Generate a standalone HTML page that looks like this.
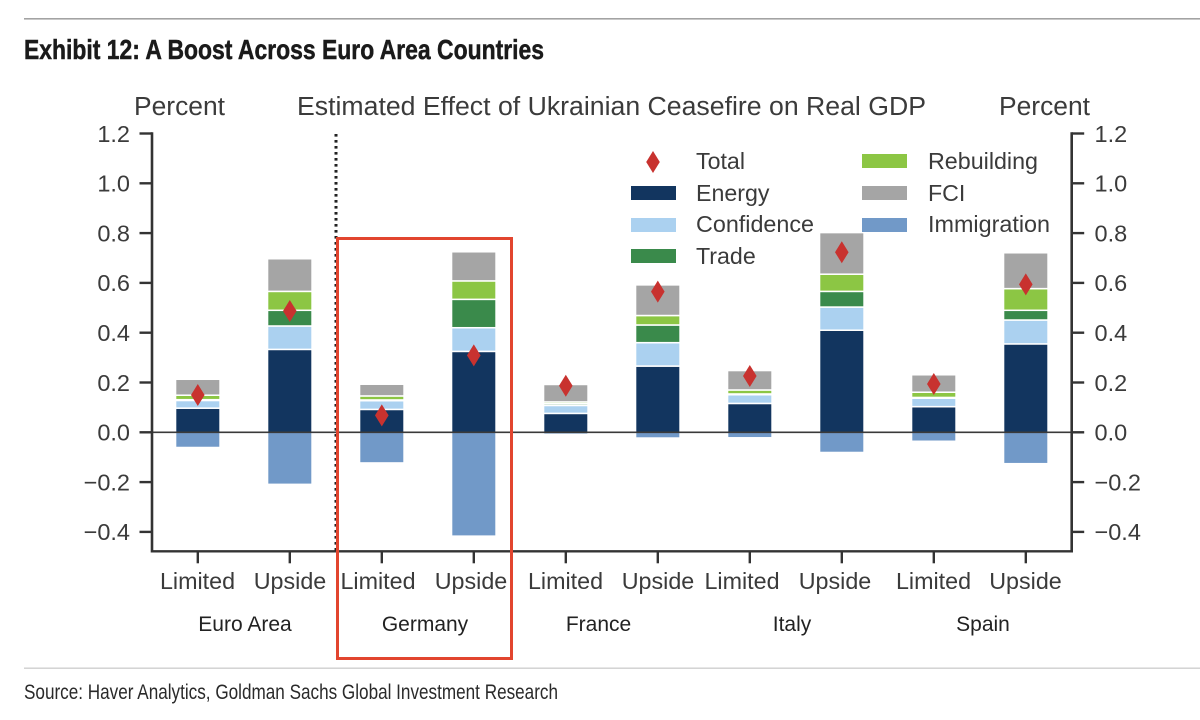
<!DOCTYPE html>
<html lang="en">
<head>
<meta charset="utf-8">
<title>Exhibit 12: A Boost Across Euro Area Countries</title>
<style>
  html, body { margin: 0; padding: 0; background: #fff; }
  body { width: 1200px; height: 720px; overflow: hidden; }
  svg { display: block; filter: blur(0.35px); }
  text { font-family: "Liberation Sans", Arial, sans-serif; fill: #3b3b3b; }
</style>
</head>
<body>
<svg id="chart" xmlns="http://www.w3.org/2000/svg" width="1200" height="720" viewBox="0 0 1200 720">
  <rect x="0" y="0" width="1200" height="720" fill="#ffffff"/>
  <rect x="24" y="18" width="1176" height="1.6" fill="#a3a3a3"/>
  <text x="24" y="59" font-size="28" font-weight="700" textLength="520" lengthAdjust="spacingAndGlyphs" style="fill:#1a1a1a;stroke:#1a1a1a;stroke-width:0.5px">Exhibit 12: A Boost Across Euro Area Countries</text>

  <text x="134" y="115" font-size="25.5" textLength="91" lengthAdjust="spacingAndGlyphs">Percent</text>
  <text x="297" y="115" font-size="25.5" textLength="629" lengthAdjust="spacingAndGlyphs">Estimated Effect of Ukrainian Ceasefire on Real GDP</text>
  <text x="999" y="115" font-size="25.5" textLength="91" lengthAdjust="spacingAndGlyphs">Percent</text>

  <g id="bars"></g>
  <g id="axes"></g>
  <g id="markers"></g>

  <line x1="336" y1="134" x2="336" y2="551" stroke="#222222" stroke-width="3" stroke-dasharray="2.6 3.4"/>

  <g>
    <g>
      <polygon points="653,151 659.8,162 653,173 646.2,162" fill="#c8322f"/>
      <text x="696" y="169" font-size="23.2">Total</text>
    </g>
    <g>
      <rect x="631" y="186" width="45" height="14" fill="#12355f"/>
      <text x="696" y="201" font-size="23.2">Energy</text>
    </g>
    <g>
      <rect x="631" y="218" width="45" height="14" fill="#abd1f0"/>
      <text x="696" y="232" font-size="23.2" textLength="118" lengthAdjust="spacingAndGlyphs">Confidence</text>
    </g>
    <g>
      <rect x="631" y="249" width="45" height="14" fill="#3a8a4b"/>
      <text x="696" y="264" font-size="23.2">Trade</text>
    </g>
    <g>
      <rect x="862" y="154" width="45" height="14" fill="#8cc644"/>
      <text x="928" y="169" font-size="23.2" textLength="110" lengthAdjust="spacingAndGlyphs">Rebuilding</text>
    </g>
    <g>
      <rect x="862" y="186" width="45" height="14" fill="#a5a5a5"/>
      <text x="928" y="201" font-size="23.2">FCI</text>
    </g>
    <g>
      <rect x="862" y="218" width="45" height="14" fill="#7199c8"/>
      <text x="928" y="232" font-size="23.2" textLength="122" lengthAdjust="spacingAndGlyphs">Immigration</text>
    </g>
  </g>

  <g font-size="23.3" text-anchor="middle">
    <text x="197.5" y="589">Limited</text>
    <text x="290" y="589">Upside</text>
    <text x="378" y="589">Limited</text>
    <text x="471" y="589">Upside</text>
    <text x="565.5" y="589">Limited</text>
    <text x="658" y="589">Upside</text>
    <text x="742" y="589">Limited</text>
    <text x="835" y="589">Upside</text>
    <text x="933.5" y="589">Limited</text>
    <text x="1025.5" y="589">Upside</text>
  </g>
  <g font-size="21" text-anchor="middle" style="fill:#222222">
    <text x="245" y="631" style="fill:#222222">Euro Area</text>
    <text x="425" y="631" style="fill:#222222">Germany</text>
    <text x="598.5" y="631" style="fill:#222222">France</text>
    <text x="792" y="631" style="fill:#222222">Italy</text>
    <text x="983" y="631" style="fill:#222222">Spain</text>
  </g>

  <rect x="337.5" y="238.5" width="174" height="420" fill="none" stroke="#e2452f" stroke-width="3"/>

  <rect x="24" y="667.5" width="1176" height="1.4" fill="#cfcfcf"/>
  <text x="24" y="699" font-size="21" textLength="534" lengthAdjust="spacingAndGlyphs" style="fill:#2a2a2a">Source: Haver Analytics, Goldman Sachs Global Investment Research</text>
</svg>

<script>
// Chart data (percent)
const categories = ["Euro Limited", "Euro Upside", "Germany Limited", "Germany Upside", "France Limited", "France Upside", "Italy Limited", "Italy Upside", "Spain Limited", "Spain Upside"];
const energy = [0.097, 0.333, 0.092, 0.325, 0.076, 0.266, 0.116, 0.410, 0.103, 0.355];
const confidence = [0.031, 0.094, 0.035, 0.095, 0.032, 0.094, 0.035, 0.093, 0.034, 0.096];
const trade = [0.003, 0.063, 0.003, 0.114, 0.007, 0.071, 0.003, 0.063, 0.003, 0.039];
const rebuilding = [0.018, 0.076, 0.016, 0.074, 0.007, 0.038, 0.016, 0.069, 0.021, 0.087];
const fci = [0.064, 0.131, 0.047, 0.117, 0.070, 0.123, 0.078, 0.167, 0.070, 0.144];
const immigration = [-0.058, -0.206, -0.120, -0.414, -0.005, -0.020, -0.019, -0.078, -0.033, -0.123];
const total = [0.150, 0.487, 0.068, 0.309, 0.187, 0.565, 0.226, 0.723, 0.194, 0.594];
const yTickValues = [1.2, 1.0, 0.8, 0.6, 0.4, 0.2, 0.0, -0.2, -0.4];
const yTickLabels = ["1.2", "1.0", "0.8", "0.6", "0.4", "0.2", "0.0", "\u22120.2", "\u22120.4"];

const SVG_NS = "http://www.w3.org/2000/svg";
const barWidth = 44.5;
const leftSpine = 152;
const rightSpine = 1071.7;
const bottomSpine = 551.3;

function yScale(v) { return 432.3 - v * 249; }
function xScale(i) { return 197.8 + i * 92; }

function make(tag, attrs) {
  const node = document.createElementNS(SVG_NS, tag);
  for (const k in attrs) node.setAttribute(k, attrs[k]);
  return node;
}

const barsGroup = document.getElementById("bars");
const axesGroup = document.getElementById("axes");
const markersGroup = document.getElementById("markers");

const stackLayers = [
  { key: "energy", values: energy, color: "#12355f" },
  { key: "confidence", values: confidence, color: "#abd1f0" },
  { key: "trade", values: trade, color: "#3a8a4b" },
  { key: "rebuilding", values: rebuilding, color: "#8cc644" },
  { key: "fci", values: fci, color: "#a5a5a5" }
];

categories.forEach(function (cat, i) {
  const slug = cat.toLowerCase().replace(/\s+/g, "-");
  let base = 0;
  stackLayers.forEach(function (layer) {
    const top = base + layer.values[i];
    const rect = make("rect", {
      x: xScale(i) - barWidth / 2,
      y: yScale(top),
      width: barWidth,
      height: yScale(base) - yScale(top),
      fill: layer.color,
      stroke: "#ffffff",
      "stroke-width": 1.5
    });
    
    
    barsGroup.appendChild(rect);
    base = top;
  });
  const neg = make("rect", {
    x: xScale(i) - barWidth / 2 + 0.75,
    y: yScale(0),
    width: barWidth - 1.5,
    height: yScale(immigration[i]) - yScale(0),
    fill: "#7199c8"
  });
  
  
  barsGroup.appendChild(neg);

  const cx = xScale(i);
  const cy = yScale(total[i]);
  const diamond = make("polygon", {
    points: cx + "," + (cy - 11) + " " + (cx + 6.8) + "," + cy + " " + cx + "," + (cy + 11) + " " + (cx - 6.8) + "," + cy,
    fill: "#c8322f"
  });
  
  
  markersGroup.appendChild(diamond);

  const tick = make("line", {
    x1: cx, x2: cx, y1: bottomSpine, y2: bottomSpine + 12,
    stroke: "#333333", "stroke-width": 2.4
  });
  
  
  axesGroup.appendChild(tick);
});

yTickValues.forEach(function (v, i) {
  const y = yScale(v);
  const leftTick = make("line", {
    x1: leftSpine - 12.5, x2: leftSpine, y1: y, y2: y,
    stroke: "#333333", "stroke-width": 2.4
  });
  
  
  axesGroup.appendChild(leftTick);

  const rightTick = make("line", {
    x1: rightSpine, x2: rightSpine + 12.5, y1: y, y2: y,
    stroke: "#333333", "stroke-width": 2.4
  });
  
  
  axesGroup.appendChild(rightTick);

  const leftLabel = make("text", { x: 130, y: y + 8.3, "font-size": 23.5, "text-anchor": "end" });
  leftLabel.textContent = yTickLabels[i];
  
  
  axesGroup.appendChild(leftLabel);

  const rightLabel = make("text", { x: 1094.5, y: y + 8.3, "font-size": 23.5 });
  rightLabel.textContent = yTickLabels[i];
  
  
  axesGroup.appendChild(rightLabel);
});

const zeroLine = make("line", {
  x1: leftSpine, x2: rightSpine, y1: yScale(0), y2: yScale(0),
  stroke: "#3a3a3a", "stroke-width": 1.6
});


axesGroup.appendChild(zeroLine);

const leftAxis = make("line", {
  x1: leftSpine, x2: leftSpine, y1: yScale(1.2) - 1.2, y2: bottomSpine + 1.2,
  stroke: "#333333", "stroke-width": 2.6
});


axesGroup.appendChild(leftAxis);

const rightAxis = make("line", {
  x1: rightSpine, x2: rightSpine, y1: yScale(1.2) - 1.2, y2: bottomSpine + 1.2,
  stroke: "#333333", "stroke-width": 2.6
});


axesGroup.appendChild(rightAxis);

const xAxis = make("line", {
  x1: leftSpine, x2: rightSpine, y1: bottomSpine, y2: bottomSpine,
  stroke: "#333333", "stroke-width": 2.4
});


axesGroup.appendChild(xAxis);
</script>
</body>
</html>
